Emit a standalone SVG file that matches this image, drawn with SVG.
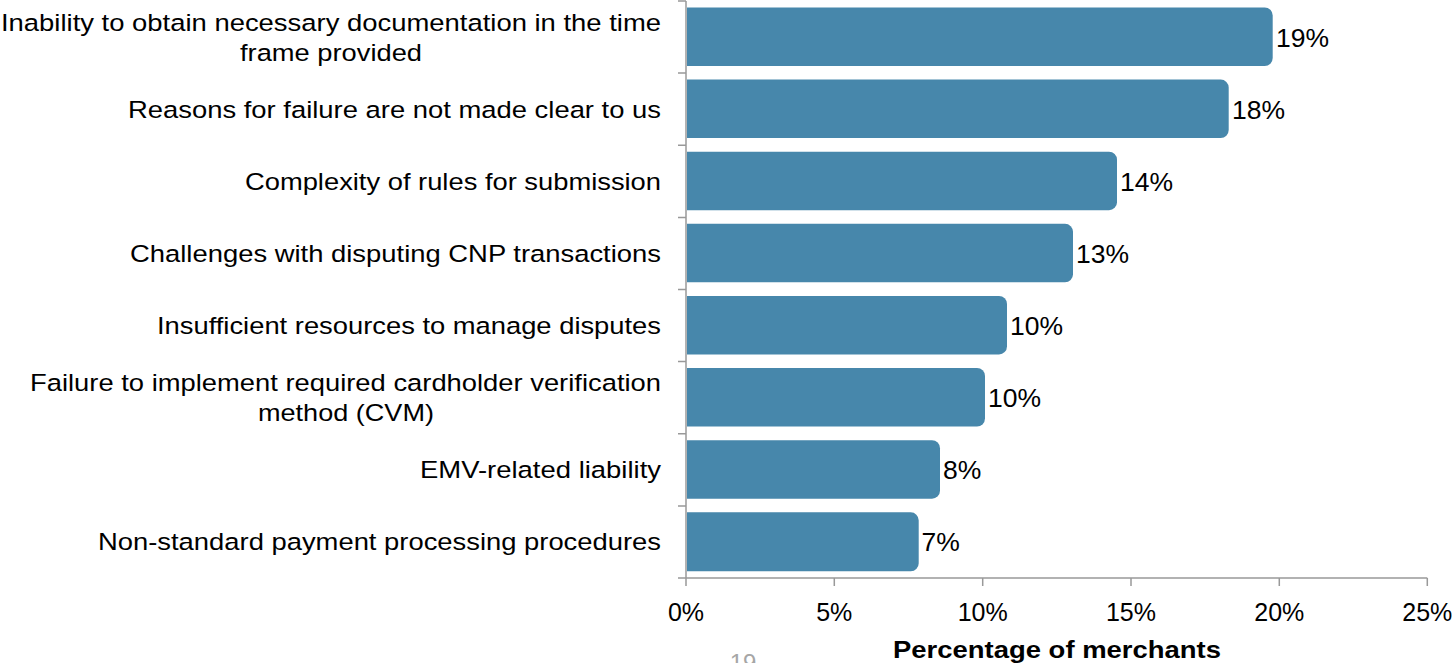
<svg xmlns="http://www.w3.org/2000/svg" width="1456" height="663" viewBox="0 0 1456 663">
<style>
text{font-family:"Liberation Sans",Arial,sans-serif;font-size:24px;fill:#000}
.cat{text-anchor:end;font-size:24.5px}
.mid{text-anchor:middle;font-size:24.5px}
.tick{text-anchor:middle;font-size:25px}
.val{font-size:26.5px}
.bar{fill:#4787ab}
.ax{stroke:#999;stroke-width:1.5;fill:none}
</style>
<rect width="1456" height="663" fill="#fff"/>
<g id="axes">
<path class="ax" d="M686,1V578M678,1H686M678,73.1H686M678,145.3H686M678,217.4H686M678,289.5H686M678,361.6H686M678,433.8H686M678,505.9H686M678,578H686"/>
<path class="ax" d="M686,578H1427.3M686,578V586M834.3,578V586M982.7,578V586M1131,578V586M1279.3,578V586M1427.3,578V586"/>
<text class="tick" x="686" y="621">0%</text>
<text class="tick" x="834.3" y="621">5%</text>
<text class="tick" x="982.7" y="621">10%</text>
<text class="tick" x="1131" y="621">15%</text>
<text class="tick" x="1279.3" y="621">20%</text>
<text class="tick" x="1427.3" y="621">25%</text>
<text x="1057" y="657.5" text-anchor="middle" font-weight="bold" font-size="21" textLength="328" lengthAdjust="spacingAndGlyphs">Percentage of merchants</text>
</g>
<g id="bar1"><path class="bar" d="M687,7.5H1264.7A8,8 0 0 1 1272.7,15.5V58A8,8 0 0 1 1264.7,66H687Z"/><text class="cat" x="661" y="31" textLength="660" lengthAdjust="spacingAndGlyphs">Inability to obtain necessary documentation in the time</text><text class="mid" x="331" y="61" textLength="182" lengthAdjust="spacingAndGlyphs">frame provided</text><text class="val" x="1276" y="46.5">19%</text></g>
<g id="bar2"><path class="bar" d="M687,79.6H1220.7A8,8 0 0 1 1228.7,87.6V130.1A8,8 0 0 1 1220.7,138.1H687Z"/><text class="cat" x="661" y="117.5" textLength="533" lengthAdjust="spacingAndGlyphs">Reasons for failure are not made clear to us</text><text class="val" x="1232" y="118.5">18%</text></g>
<g id="bar3"><path class="bar" d="M687,151.7H1109A8,8 0 0 1 1117,159.7V202.2A8,8 0 0 1 1109,210.2H687Z"/><text class="cat" x="661" y="189.5" textLength="416" lengthAdjust="spacingAndGlyphs">Complexity of rules for submission</text><text class="val" x="1120" y="190.5">14%</text></g>
<g id="bar4"><path class="bar" d="M687,223.8H1065A8,8 0 0 1 1073,231.8V274.3A8,8 0 0 1 1065,282.3H687Z"/><text class="cat" x="661" y="261.5" textLength="531" lengthAdjust="spacingAndGlyphs">Challenges with disputing CNP transactions</text><text class="val" x="1076" y="262.5">13%</text></g>
<g id="bar5"><path class="bar" d="M687,295.9H999A8,8 0 0 1 1007,303.9V346.4A8,8 0 0 1 999,354.4H687Z"/><text class="cat" x="661" y="333.5" textLength="504" lengthAdjust="spacingAndGlyphs">Insufficient resources to manage disputes</text><text class="val" x="1010" y="334.5">10%</text></g>
<g id="bar6"><path class="bar" d="M687,368H977A8,8 0 0 1 985,376V418.5A8,8 0 0 1 977,426.5H687Z"/><text class="cat" x="661" y="391" textLength="631" lengthAdjust="spacingAndGlyphs">Failure to implement required cardholder verification</text><text class="mid" x="346" y="421" textLength="176" lengthAdjust="spacingAndGlyphs">method (CVM)</text><text class="val" x="988" y="406.5">10%</text></g>
<g id="bar7"><path class="bar" d="M687,440.2H932A8,8 0 0 1 940,448.2V490.7A8,8 0 0 1 932,498.7H687Z"/><text class="cat" x="661" y="477.5" textLength="241" lengthAdjust="spacingAndGlyphs">EMV-related liability</text><text class="val" x="943" y="478.5">8%</text></g>
<g id="bar8"><path class="bar" d="M687,512.3H910.7A8,8 0 0 1 918.7,520.3V562.8A8,8 0 0 1 910.7,571.3H687Z"/><text class="cat" x="661" y="549.5" textLength="563" lengthAdjust="spacingAndGlyphs">Non-standard payment processing procedures</text><text class="val" x="921.5" y="550.5">7%</text></g>
<text x="743" y="671" text-anchor="middle" style="fill:#a6a6a6">19</text>
</svg>
